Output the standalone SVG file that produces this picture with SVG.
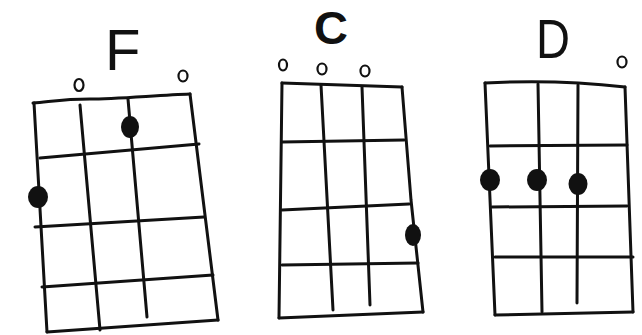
<svg xmlns="http://www.w3.org/2000/svg" width="642" height="335" viewBox="0 0 642 335">
<style>
.ln{fill:none;stroke:#111;stroke-width:3;stroke-linecap:round;stroke-linejoin:round}
.dot{fill:#111}
.open{fill:none;stroke:#111;stroke-width:2.2}
.lbl{font-family:"Liberation Sans",Arial,sans-serif;fill:#111}
</style>
<rect width="642" height="335" fill="#fff"/>
<g id="chord-F">
  <text class="lbl" x="105" y="70" font-size="58">F</text>
  <ellipse class="open" cx="79" cy="85" rx="4.5" ry="6"/>
  <ellipse class="open" cx="183" cy="76" rx="4.5" ry="5.5"/>
  <path class="ln" d="M33,103 C55,101 65,99 90,99 S160,95 190,94"/>
  <path class="ln" d="M190,94 L218,320"/>
  <path class="ln" d="M47,332 L218,320"/>
  <path class="ln" d="M34,103 L47,332"/>
  <path class="ln" d="M80,105 L100,330"/>
  <path class="ln" d="M128,99 L147,317"/>
  <path class="ln" d="M40,158 L199,144"/>
  <path class="ln" d="M35,227 L204,217"/>
  <path class="ln" d="M42,287 L213,275"/>
  <ellipse class="dot" cx="130" cy="127" rx="9" ry="11"/>
  <ellipse class="dot" cx="38" cy="197" rx="10" ry="11"/>
</g>
<g id="chord-C">
  <text class="lbl" x="314" y="44" font-size="47" font-weight="bold">C</text>
  <ellipse class="open" cx="283" cy="65" rx="4" ry="5.5"/>
  <ellipse class="open" cx="322" cy="69" rx="4.5" ry="5.5"/>
  <ellipse class="open" cx="365" cy="71" rx="4.5" ry="5.5"/>
  <path class="ln" d="M282,83 L402,87"/>
  <path class="ln" d="M402,87 L411,200 L423,312"/>
  <path class="ln" d="M279,318 L423,312"/>
  <path class="ln" d="M282,83 L279,318"/>
  <path class="ln" d="M321,85 L333,310"/>
  <path class="ln" d="M362,87 L370,305"/>
  <path class="ln" d="M282,142 L404,140"/>
  <path class="ln" d="M282,210 L409,204"/>
  <path class="ln" d="M282,265 L418,263"/>
  <ellipse class="dot" cx="413" cy="235" rx="8" ry="11"/>
</g>
<g id="chord-D">
  <text class="lbl" x="536" y="58" font-size="55" textLength="34" lengthAdjust="spacingAndGlyphs">D</text>
  <ellipse class="open" cx="622" cy="62" rx="4.5" ry="5.5"/>
  <path class="ln" d="M485,83 Q555,79 625,87"/>
  <path class="ln" d="M625,87 L633,312"/>
  <path class="ln" d="M495,315 L633,312"/>
  <path class="ln" d="M485,83 L495,315"/>
  <path class="ln" d="M538,84 L542,312"/>
  <path class="ln" d="M578,85 L577,303"/>
  <path class="ln" d="M490,146 L627,145"/>
  <path class="ln" d="M492,207 L627,206"/>
  <path class="ln" d="M495,257 L633,257"/>
  <ellipse class="dot" cx="490" cy="180" rx="10" ry="11"/>
  <ellipse class="dot" cx="537" cy="180" rx="10" ry="11"/>
  <ellipse class="dot" cx="578" cy="184" rx="9.5" ry="11"/>
</g>
</svg>
